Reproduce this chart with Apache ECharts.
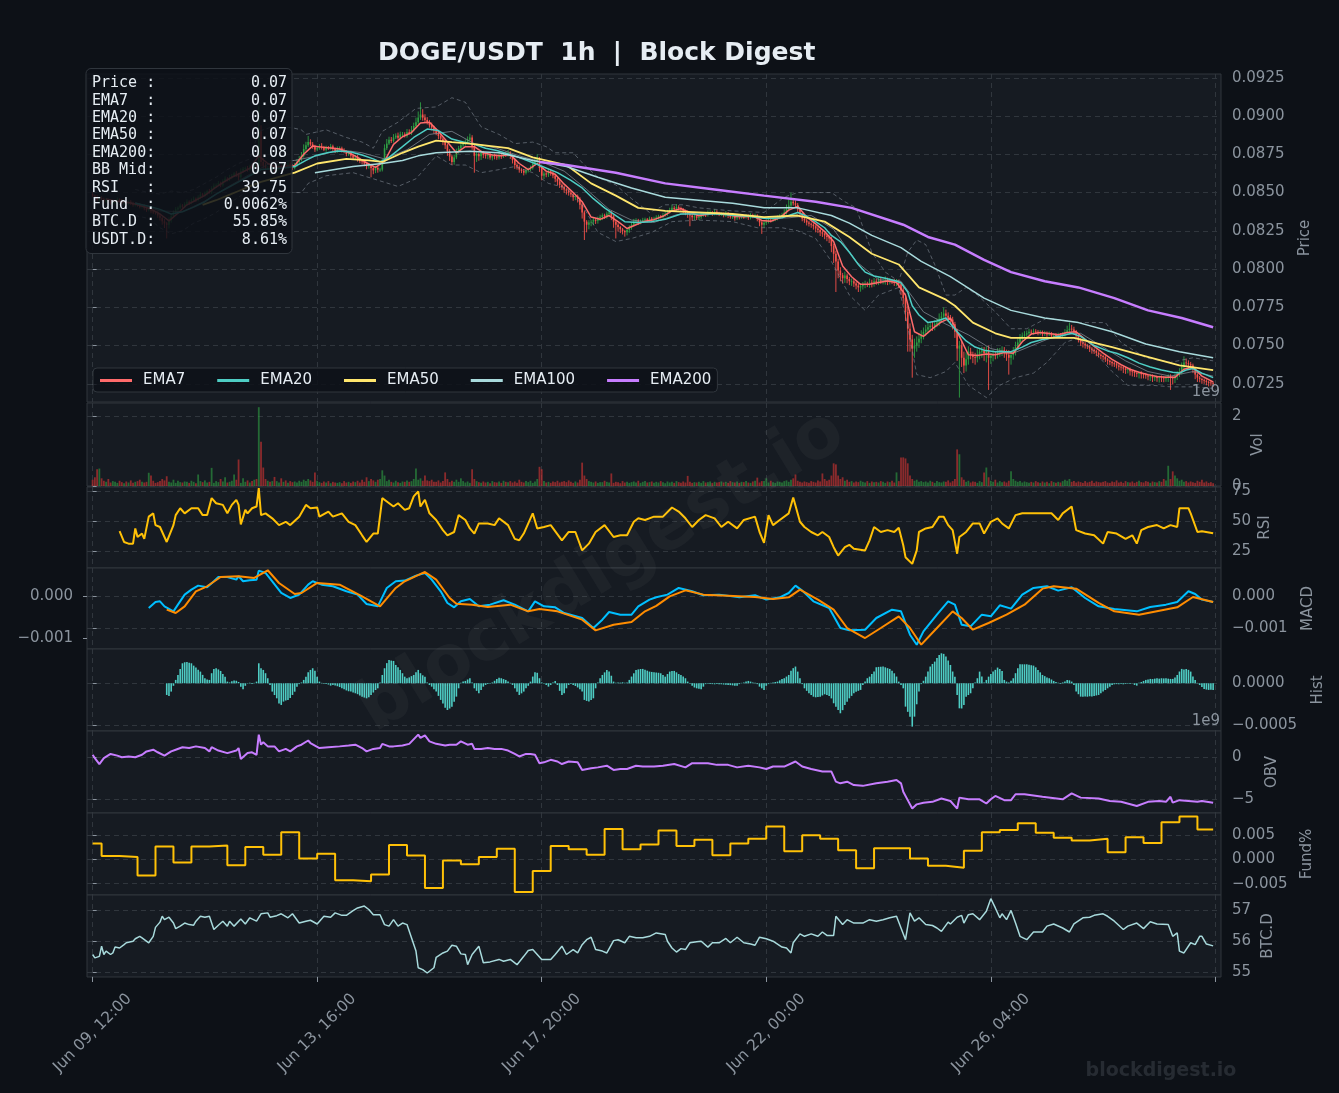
<!DOCTYPE html>
<html>
<head>
<meta charset="UTF-8">
<title>DOGE/USDT 1h | Block Digest</title>
<script src="https://cdn.jsdelivr.net/npm/echarts@6/dist/echarts.min.js"></script>
<style>html,body{margin:0;padding:0;background:#0d1117;}</style>
</head>
<body>
<div id="main" style="width:1339px;height:1093px;"></div>
<script>
// hourly candles, hour 0 = Jun 09 12:00; prices are x 1e-5
var closeX1e5 = [
8480,8470,8452,8465,8458,8440,8452,8445,8430,8438, 8440,8455,8448,8430,8436,8425,8440,8432,8418,8422,
8420,8405,8412,8398,8385,8392,8378,8370,8368,8350, 8335,8312,8298,8290,8318,8345,8372,8390,8400,8415,
8408,8425,8440,8432,8450,8460,8452,8470,8488,8480, 8495,8510,8502,8530,8545,8550,8562,8548,8575,8590,
8585,8602,8610,8625,8618,8600,8640,8655,8660,8648, 8670,8665,8680,8672,8900,8700,8675,8660,8662,8650,
8665,8640,8655,8672,8660,8680,8668,8690,8675,8660, 8680,8700,8718,8740,8785,8810,8830,8815,8800,8782,
8790,8805,8795,8780,8792,8790,8802,8785,8770,8788, 8790,8775,8768,8752,8760,8740,8728,8735,8718,8705,
8700,8690,8672,8680,8660,8645,8662,8650,8650,8700, 8790,8820,8845,8838,8860,8872,8858,8880,8880,8870,
8895,8888,8910,8935,8960,8990,9010,8990,8975,8960, 8940,8925,8905,8890,8870,8852,8830,8810,8770,8735,
8700,8730,8765,8790,8810,8822,8830,8845,8860,8800, 8740,8752,8738,8760,8745,8740,8748,8730,8742,8735,
8730,8745,8738,8752,8748,8760,8740,8712,8680,8668, 8650,8642,8630,8645,8652,8660,8690,8705,8720,8660,
8610,8625,8618,8640,8630,8612,8590,8572,8550,8535, 8520,8512,8500,8488,8470,8478,8460,8420,8370,8310,
8290,8305,8310,8322,8315,8330,8340,8352,8345,8362, 8370,8345,8310,8290,8275,8260,8248,8240,8255,8272,
8290,8310,8318,8305,8312,8320,8325,8318,8330,8322, 8330,8338,8345,8340,8352,8360,8372,8385,8400,8392,
8405,8398,8390,8380,8372,8360,8350,8338,8345,8335, 8340,8352,8360,8355,8368,8370,8362,8375,8365,8358,
8360,8352,8365,8348,8340,8340,8332,8345,8338,8342, 8340,8348,8335,8352,8345,8350,8330,8305,8290,8302,
8310,8322,8318,8325,8330,8338,8345,8352,8370,8392, 8415,8440,8430,8420,8390,8360,8330,8318,8305,8296,
8290,8280,8265,8255,8240,8232,8220,8210,8200,8150, 8100,8050,7990,7960,7940,7958,7935,7920,7920,7905,
7892,7880,7888,7895,7902,7900,7912,7905,7920,7915, 7925,7918,7920,7930,7915,7922,7920,7910,7915,7900,
7860,7810,7720,7610,7540,7480,7500,7520,7545,7570, 7590,7605,7620,7630,7625,7640,7650,7675,7690,7710,
7695,7680,7670,7640,7590,7480,7500,7420,7370,7410, 7460,7440,7425,7420,7445,7460,7470,7450,7470,7420,
7432,7445,7440,7455,7462,7470,7455,7440,7420,7438, 7460,7490,7520,7550,7565,7572,7580,7590,7585,7592,
7590,7582,7588,7575,7580,7572,7578,7565,7570,7562, 7570,7565,7570,7585,7600,7610,7605,7590,7565,7540,
7520,7512,7500,7495,7480,7472,7465,7452,7440,7432, 7425,7410,7400,7392,7385,7378,7370,7362,7358,7350,
7340,7345,7332,7328,7320,7315,7322,7312,7310,7305, 7298,7302,7290,7295,7288,7292,7290,7285,7292,7300,
7290,7285,7300,7315,7330,7360,7390,7385,7378,7370, 7345,7310,7290,7282,7275,7270,7262,7258,7255,7250
];
var firstOpenX1e5 = 8490;
// upper / lower wick length beyond the body, x 1e-5
var wickUpX1e5 = [
12,8,15,6,10,9,14,7,11,8, 9,13,7,10,12,6,9,11,8,10, 7,10,9,12,8,6,11,9,7,10, 12,8,15,10,20,18,12,15,10,14,
10,12,15,9,11,14,8,12,16,10, 12,9,14,11,15,10,13,9,12,16, 10,14,12,9,15,11,18,12,10,14, 12,15,10,14,170,40,25,18,12,15,
14,10,12,16,11,13,9,15,12,10, 14,18,20,25,30,22,40,18,15,12, 15,12,18,10,14,12,16,11,9,13, 12,10,14,9,11,13,8,12,10,9,
11,9,10,12,8,10,14,9,12,20, 25,30,20,18,22,15,20,18,16,14, 20,18,25,22,30,40,80,35,22,18, 15,18,12,14,10,12,9,11,10,14,
12,18,22,15,20,16,18,22,25,15, 12,14,10,15,12,9,13,11,10,12, 11,14,10,12,15,18,10,9,8,11, 10,9,12,14,11,16,20,18,30,12,
10,14,12,16,11,9,10,8,12,9, 10,8,9,11,8,12,9,10,15,12, 10,15,12,14,11,13,15,12,10,14, 18,10,9,8,10,7,9,8,12,14,
16,18,14,10,12,15,11,9,13,10, 12,14,10,9,15,18,14,16,22,12, 20,12,10,9,8,11,10,9,12,10, 11,14,12,10,15,13,9,16,10,9,
10,9,14,8,10,9,8,12,10,11, 9,12,8,14,10,12,8,9,10,12, 11,14,12,13,10,12,14,16,22,30, 40,60,25,18,12,10,9,8,10,9,
8,9,7,10,8,9,7,8,10,12, 15,20,18,22,15,25,12,14,18,15, 12,14,18,20,22,15,25,18,22,16, 20,18,15,22,14,18,12,15,20,16,
15,20,30,40,35,30,45,40,35,30, 28,30,25,22,30,25,28,35,30,40, 25,22,20,18,15,20,30,28,40,45, 35,25,20,28,30,25,22,20,25,30,
22,25,20,28,22,25,20,18,30,25, 30,35,28,25,20,22,18,20,15,18, 15,12,14,10,16,12,14,10,12,11, 14,12,18,22,30,40,25,18,12,10,
9,8,10,9,8,10,9,8,10,9, 8,10,9,8,10,9,11,8,10,9, 10,9,11,8,10,12,9,10,8,11, 10,12,9,11,8,10,12,9,10,11,
12,10,15,18,22,30,40,25,18,15, 12,10,9,11,8,10,9,8,10,9
];
var wickDnX1e5 = [
10,14,8,12,9,15,7,11,10,12, 8,11,13,9,10,12,8,14,10,9, 12,9,10,14,11,8,13,10,12,15, 18,22,30,90,25,15,12,10,14,9,
11,9,12,14,8,10,13,9,11,12, 10,14,9,12,11,15,8,13,10,9, 12,10,14,9,16,20,12,10,15,11, 9,12,10,14,20,30,18,15,12,14,
10,15,12,9,14,11,13,10,15,12, 9,12,10,14,11,15,12,10,14,16, 12,10,14,9,13,11,10,15,12,9, 10,13,11,15,12,14,10,12,16,13,
15,18,20,16,60,25,18,20,15,12, 10,12,9,14,11,10,13,9,12,10, 11,9,12,10,14,12,15,20,18,15, 16,18,20,15,22,18,20,25,30,28,
20,18,12,10,14,12,15,10,12,20, 110,40,30,25,20,18,22,15,20,18, 16,14,18,12,15,13,20,22,25,18, 20,15,18,12,14,11,10,12,14,25,
30,22,18,16,20,18,22,25,20,18, 22,25,20,18,24,20,25,30,40,120, 50,30,25,22,20,18,16,20,18,15, 20,25,40,90,30,25,22,28,20,18,
15,12,14,16,12,10,14,12,10,15, 12,10,14,9,11,10,12,9,10,14, 12,15,18,16,20,25,70,22,18,15, 14,12,10,15,12,10,14,11,13,12,
10,14,12,15,11,13,16,12,14,10, 12,10,14,11,13,10,18,25,60,20, 15,12,14,10,12,11,9,12,10,14, 12,10,15,18,20,22,18,16,20,18,
20,22,25,20,24,22,25,28,30,40, 60,200,50,40,35,30,28,25,30,22, 25,30,28,22,20,18,22,25,20,18, 20,15,18,22,20,16,18,20,22,25,
30,40,60,150,80,190,60,40,35,30, 30,28,25,22,30,25,20,22,25,20, 22,25,30,35,40,80,320,60,50,40, 35,30,40,45,30,35,40,50,60,210,
40,35,30,25,28,30,35,40,110,45, 30,25,20,18,22,15,18,12,15,14, 12,15,14,16,12,15,10,14,12,13, 12,14,10,12,15,12,14,16,18,20,
22,25,20,18,22,25,20,22,18,20, 22,18,25,20,22,18,20,25,22,30, 25,22,28,30,25,22,30,28,25,22, 25,30,28,22,25,30,28,25,22,30,
80,40,30,25,20,18,15,20,25,22, 25,30,28,22,25,20,22,25,18,20
];
// hourly volume, x 1e7
var volumeX1e7 = [
18,25,48,50,22,15,12,20,10,14, 12,9,15,11,8,13,10,16,9,12, 14,18,12,10,12,38,30,15,9,11, 14,20,16,28,12,10,18,9,15,11,
10,13,12,9,15,12,8,33,14,11, 16,10,12,52,9,14,11,20,13,25, 10,12,15,33,18,76,9,22,12,16, 10,14,18,20,226,127,53,20,15,12,
14,26,14,10,22,12,16,9,14,11, 13,10,15,12,18,14,20,16,12,39, 15,11,9,13,10,14,8,12,10,9, 11,8,14,10,12,9,13,11,15,10,
18,12,25,14,20,16,12,18,20,45, 30,14,18,12,10,15,11,9,13,12, 16,12,14,20,50,18,22,15,30,16, 14,18,12,12,16,10,14,39,20,11,
15,12,18,12,22,14,10,13,9,48, 20,14,11,9,13,10,12,8,14,11, 10,13,9,15,12,11,14,10,13,9, 18,12,10,14,11,15,9,13,20,55,
48,14,10,12,9,13,11,15,10,12, 14,11,16,12,9,13,10,18,67,30, 20,14,12,10,13,9,11,11,15,12, 10,36,9,12,11,8,14,10,12,9,
11,13,10,15,9,12,14,10,11,13, 9,12,10,14,11,8,13,10,12,9, 14,11,9,13,10,29,12,9,11,10, 12,9,14,10,11,13,9,12,10,11,
13,10,12,9,14,11,10,13,9,12, 11,14,10,9,13,15,24,10,14,14, 22,10,15,11,9,13,12,10,14,16, 12,18,22,33,15,12,10,13,11,9,
14,12,10,16,13,36,20,15,18,30, 65,62,30,20,25,15,18,12,14,10, 13,11,15,12,10,14,9,13,11,12, 10,14,12,9,13,11,15,10,39,14,
82,82,79,65,30,20,15,18,12,14, 11,13,10,15,12,9,14,11,10,13, 12,16,10,14,20,105,91,25,18,12, 15,10,13,12,9,14,11,39,53,25,
15,12,18,10,14,11,13,10,15,42, 20,15,12,14,10,13,11,9,12,10, 14,11,9,13,10,12,8,14,11,9, 12,10,14,18,15,20,12,14,10,13,
11,9,14,10,12,15,9,13,11,10, 12,14,10,9,13,11,16,10,12,9, 14,11,10,13,9,12,15,11,10,14, 12,9,13,11,10,14,12,20,16,58,
20,42,30,22,15,18,12,14,10,13, 11,9,15,12,18,10,13,9,11,8
];
// [hour, value x 1e-5]
var ema7 = [[6,8458],[10,8445],[14,8440],[18,8428],[22,8412],[26,8392],[30,8360],[34,8315],[38,8365],[42,8420],[46,8450],[50,8482],[54,8525],[58,8565],[62,8600],[66,8628],[70,8658],[74,8740],[78,8690],[82,8665],[86,8672],[90,8677],[94,8750],[98,8805],[102,8797],[106,8792],[110,8785],[114,8762],[118,8730],[122,8695],[126,8665],[130,8705],[134,8815],[138,8865],[142,8892],[146,8955],[150,8960],[154,8900],[158,8830],[162,8760],[166,8800],[170,8800],[174,8760],[178,8745],[182,8740],[186,8748],[190,8690],[194,8650],[198,8690],[202,8640],[206,8620],[210,8555],[214,8500],[218,8440],[222,8340],[226,8325],[230,8350],[234,8310],[238,8265],[242,8290],[246,8313],[250,8323],[254,8345],[258,8380],[262,8395],[266,8370],[270,8348],[274,8358],[278,8366],[282,8360],[286,8345],[290,8342],[294,8346],[298,8318],[302,8312],[306,8335],[310,8385],[314,8410],[318,8340],[322,8295],[326,8245],[330,8180],[334,8020],[338,7950],[342,7900],[346,7900],[350,7912],[354,7922],[358,7912],[362,7830],[366,7590],[370,7560],[374,7610],[378,7655],[382,7680],[386,7560],[390,7440],[394,7435],[398,7445],[402,7440],[406,7455],[410,7450],[414,7525],[418,7575],[422,7586],[426,7578],[430,7570],[434,7585],[438,7590],[442,7540],[446,7495],[450,7450],[454,7410],[458,7375],[462,7345],[466,7325],[470,7310],[474,7298],[478,7292],[482,7292],[486,7345],[490,7360],[494,7300],[499,7262]];
var ema20 = [[19,8430],[25,8410],[30,8390],[35,8360],[40,8375],[45,8405],[50,8440],[55,8490],[60,8530],[65,8570],[70,8610],[75,8650],[80,8655],[85,8660],[90,8670],[95,8710],[99,8740],[105,8762],[110,8772],[115,8765],[120,8745],[125,8720],[128,8700],[132,8730],[138,8800],[143,8860],[149,8915],[154,8905],[160,8850],[165,8830],[170,8815],[175,8790],[180,8775],[188,8740],[197,8690],[207,8630],[213,8580],[218,8530],[223,8460],[228,8400],[233,8350],[237,8310],[243,8305],[249,8310],[255,8325],[262,8360],[270,8360],[277,8362],[285,8352],[292,8345],[300,8330],[307,8335],[314,8370],[318,8345],[322,8310],[326,8270],[329,8220],[333,8180],[337,8110],[341,8030],[344,7980],[348,7955],[353,7940],[357,7925],[360,7910],[363,7850],[365,7760],[368,7700],[372,7650],[376,7660],[380,7680],[385,7590],[389,7530],[393,7490],[397,7470],[402,7460],[409,7460],[414,7490],[418,7520],[423,7540],[427,7550],[432,7565],[436,7580],[440,7560],[446,7500],[452,7465],[456,7450],[461,7420],[466,7385],[471,7360],[476,7340],[481,7325],[484,7320],[487,7340],[490,7350],[494,7320],[499,7290]];
var ema50 = [[49,8420],[55,8450],[60,8480],[65,8510],[70,8540],[75,8570],[80,8590],[85,8610],[90,8630],[100,8690],[113,8720],[123,8710],[129,8700],[138,8760],[145,8800],[153,8840],[160,8830],[168,8820],[185,8790],[196,8730],[211,8680],[222,8560],[233,8480],[243,8400],[255,8380],[270,8370],[285,8360],[299,8340],[314,8350],[326,8310],[337,8210],[347,8100],[359,8030],[368,7880],[380,7800],[384,7760],[392,7650],[402,7580],[409,7550],[424,7550],[437,7550],[454,7490],[469,7430],[484,7370],[499,7340]];
var ema100 = [[99,8630],[116,8670],[129,8690],[138,8710],[145,8740],[153,8760],[168,8770],[181,8760],[196,8710],[211,8670],[225,8600],[240,8530],[255,8470],[270,8450],[285,8430],[299,8400],[314,8400],[329,8350],[337,8300],[347,8220],[360,8140],[369,8050],[382,7950],[397,7810],[409,7730],[424,7680],[439,7650],[454,7590],[469,7510],[484,7460],[499,7420]];
var ema200 = [[199,8700],[211,8680],[233,8630],[255,8560],[277,8520],[299,8480],[322,8440],[338,8400],[361,8290],[372,8210],[384,8160],[397,8060],[409,7980],[424,7920],[439,7880],[455,7810],[470,7730],[485,7680],[499,7620]];
var bbUpper = [[19,8520],[25,8500],[30,8490],[35,8510],[40,8500],[45,8520],[50,8560],[55,8600],[60,8650],[65,8690],[70,8720],[74,8900],[80,8930],[85,8930],[90,8920],[93,8910],[95,8880],[104,8910],[113,8860],[120,8830],[125,8790],[129,8900],[136,8960],[144,9050],[153,9060],[160,9120],[166,9090],[173,8930],[181,8880],[188,8820],[196,8830],[202,8800],[206,8760],[214,8760],[219,8680],[225,8600],[233,8550],[240,8460],[248,8370],[255,8420],[263,8420],[270,8400],[285,8380],[299,8370],[308,8470],[314,8500],[329,8500],[335,8440],[340,8400],[347,8110],[353,7980],[359,7920],[363,8110],[367,8190],[371,8160],[375,8030],[380,7830],[384,7830],[389,7880],[394,7830],[402,7720],[409,7610],[416,7610],[425,7680],[439,7650],[451,7650],[458,7520],[469,7420],[480,7390],[490,7420],[499,7400]];
var bbLower = [[19,8350],[25,8330],[30,8270],[35,8230],[40,8250],[45,8300],[50,8330],[55,8370],[60,8420],[65,8470],[70,8520],[74,8470],[80,8480],[85,8500],[90,8500],[93,8500],[96,8560],[104,8610],[116,8630],[125,8590],[136,8540],[144,8590],[153,8740],[160,8680],[166,8680],[173,8630],[181,8650],[188,8670],[196,8630],[203,8560],[211,8530],[218,8420],[225,8240],[233,8180],[240,8200],[249,8240],[258,8310],[270,8320],[285,8310],[296,8270],[307,8270],[314,8250],[322,8200],[329,8050],[337,7830],[344,7730],[350,7830],[359,7880],[363,7630],[367,7310],[373,7290],[380,7330],[384,7390],[390,7240],[398,7160],[404,7240],[411,7290],[419,7320],[425,7390],[433,7520],[439,7550],[446,7460],[454,7330],[461,7240],[472,7240],[480,7230],[490,7230],[499,7220]];
var bbMid = [[19,8435],[30,8380],[40,8375],[50,8445],[60,8535],[70,8620],[80,8700],[90,8710],[100,8740],[110,8780],[120,8760],[130,8720],[140,8780],[150,8880],[160,8900],[170,8820],[180,8790],[190,8740],[200,8700],[210,8640],[220,8520],[230,8390],[240,8320],[250,8305],[260,8355],[270,8370],[280,8360],[290,8350],[300,8330],[310,8335],[320,8350],[330,8260],[340,8050],[350,7930],[360,7920],[370,7720],[380,7640],[390,7570],[400,7480],[410,7450],[420,7510],[430,7570],[440,7580],[450,7490],[460,7400],[470,7330],[480,7300],[490,7330],[499,7300]];
// [hour, RSI]
var rsi = [[12,41.5],[14,32.4],[16,31],[18,31],[19,43.8],[20,36.6],[22,39.5],[23,35],[25,53.7],[27,56.5],[28,46.6],[30,45],[33,32.4],[36,46.6],[37,55],[39,60.8],[41,56.5],[44,60.8],[47,60.8],[49,55],[51,55],[53,69.3],[55,65],[58,63.6],[60,56.5],[62,63.6],[64,67.9],[65,63.6],[66,47.2],[68,59.4],[69,56.5],[71,60.8],[73,62.2],[74,77.8],[75,55],[77,56.5],[80,52.3],[83,46.6],[86,49.4],[88,46.6],[92,53.7],[95,63.6],[97,60.8],[100,61.4],[101,53.7],[105,58],[107,53.7],[111,56.5],[114,49.4],[117,46.6],[120,38],[122,32.4],[125,39.5],[127,39.5],[129,69.3],[131,66.5],[134,62.2],[136,65],[139,59.4],[141,60.8],[143,70.7],[145,75],[146,62.2],[148,67.9],[150,56.5],[153,50.9],[156,42.4],[158,38],[161,40.8],[163,55],[166,50.9],[168,43.8],[170,39.5],[172,48],[176,48],[179,46.6],[181,52.3],[185,46.6],[188,35],[190,33.8],[192,39.5],[195,52.3],[196,56.5],[198,43.8],[201,45],[204,46.6],[209,33.8],[212,40.8],[215,40.8],[218,25.3],[221,31],[224,40.8],[228,46.6],[232,36.6],[235,38],[238,38],[241,49.4],[243,52.3],[246,50.9],[250,53.7],[254,53.7],[258,61.4],[261,58],[264,52.3],[267,45],[270,50.9],[273,55],[277,52.3],[280,45],[283,49.4],[287,43.8],[290,50.9],[295,53.7],[297,40.8],[299,31.7],[301,55],[303,46.6],[306,50.9],[310,56.5],[312,69.9],[315,49.4],[317,45],[320,40.8],[323,38],[325,40.8],[328,36.6],[330,28],[332,21],[335,28],[337,30],[339,26.7],[344,25.3],[346,33.8],[348,45],[351,40.8],[354,42.4],[357,40.8],[359,44.3],[361,29.6],[362,19.6],[365,14],[367,25.3],[368,40.8],[371,43.8],[374,45],[377,53.7],[379,53.7],[381,46.6],[383,42.4],[385,22.5],[386,36.6],[389,40.8],[392,48],[395,48],[397,39.5],[400,49.4],[403,52.3],[405,48],[408,43.8],[411,55],[414,56.5],[418,56.5],[423,56.5],[427,56.5],[430,50.9],[432,56.5],[436,62.2],[438,42.4],[442,39.5],[446,38],[450,31],[452,40.8],[456,39.5],[460,35],[463,38],[465,31],[467,42.4],[470,45],[474,46.6],[477,43.8],[480,46.6],[483,45],[484,60.8],[488,60.8],[489,56.5],[492,40.8],[494,41.5],[499,39.75]];
// [hour, value x 1e-6]
var macdLine = [[25,-368],[28,-179],[30,-158],[32,-316],[36,-474],[38,-263],[41,53],[44,210],[47,337],[51,284],[54,474],[56,610],[60,610],[64,526],[65,632],[67,474],[70,505],[73,526],[74,810],[77,737],[80,474],[84,105],[88,-53],[92,53],[96,368],[98,474],[102,368],[107,316],[113,158],[118,53],[122,-242],[127,-316],[131,263],[135,474],[139,495],[144,653],[148,737],[151,526],[155,158],[158,-210],[161,-347],[164,-158],[168,-84],[172,-316],[177,-263],[183,-126],[188,-263],[194,-474],[197,-158],[201,-316],[206,-347],[210,-526],[218,-684],[223,-1000],[227,-737],[230,-495],[235,-579],[240,-579],[243,-316],[248,-105],[251,-30],[256,53],[261,263],[267,158],[272,32],[279,53],[288,-32],[295,32],[300,-105],[306,-32],[310,105],[313,337],[316,179],[321,-158],[328,-368],[333,-1000],[337,-1074],[344,-1053],[349,-684],[356,-421],[360,-474],[364,-1211],[367,-1526],[370,-1105],[376,-579],[381,-158],[384,-263],[387,-895],[391,-947],[396,-579],[400,-632],[404,-284],[409,-389],[414,53],[419,263],[425,316],[430,179],[436,284],[442,-53],[448,-316],[455,-400],[465,-474],[471,-337],[478,-263],[483,-179],[488,158],[491,74],[494,-105],[499,-179]];
var signalLine = [[33,-421],[37,-526],[41,-316],[46,158],[51,316],[57,610],[65,632],[72,579],[78,821],[83,421],[90,74],[93,105],[100,421],[110,368],[120,0],[128,-316],[135,263],[139,474],[148,768],[153,526],[159,-53],[162,-232],[169,-263],[176,-337],[186,-263],[194,-474],[199,-400],[207,-474],[218,-737],[224,-1074],[232,-895],[240,-811],[246,-474],[251,-300],[257,0],[264,189],[272,53],[283,21],[295,-21],[303,-84],[310,-32],[315,210],[323,-105],[330,-421],[336,-1000],[344,-1316],[351,-1000],[359,-632],[364,-1000],[369,-1526],[376,-1000],[383,-474],[387,-684],[392,-1053],[399,-842],[407,-579],[415,-263],[423,242],[428,316],[438,242],[448,-210],[455,-474],[466,-579],[483,-347],[490,-21],[499,-179]];
// MACD histogram, hourly from hour 33, x 1e-6
var histStartHour = 33;
var histX1e6 = [
-139,-150,-99,-30,40,99,170,238,250,252, 245,238,210,187,160,139,100,60,45,40, 120,171,179,165,147,110,79,20,10,25,
32,30,15,-40,-71,-30,-5,5,-8,5, 20,238,179,159,120,60,-20,-99,-140,-179, -240,-258,-218,-205,-198,-175,-139,-100,-40,-10,
10,40,79,130,159,179,150,79,20,5, -5,-10,-15,-28,-20,-25,-35,-45,-60,-70, -85,-95,-99,-110,-119,-130,-145,-159,-170,-179,
-165,-139,-110,-80,-60,10,99,179,240,278, 270,266,218,190,159,120,79,60,70,85, 99,130,159,120,95,79,10,-20,-40,-70,
-99,-150,-198,-240,-290,-318,-300,-278,-220,-159, -60,5,20,28,45,60,10,-60,-90,-119, -80,-40,-20,-10,-5,10,30,50,67,60,
50,40,20,5,-20,-60,-100,-139,-120,-99, -60,-30,20,80,131,125,60,10,-5,-20, -40,-20,10,28,-20,-90,-139,-120,-60,-20,
-10,-20,-32,-50,-70,-99,-198,-210,-218,-200, -179,-60,10,60,99,130,159,140,90,20, 5,10,8,12,6,10,40,80,119,159,
165,170,171,160,150,139,135,131,128,125, 119,100,79,110,139,145,147,130,110,99, 80,60,20,-5,-30,-50,-60,-65,-71,-40,
-10,-5,-8,-10,-12,-10,-12,-12,-15,-18, -20,-22,-25,-28,-28,-10,5,10,20,28, 20,10,5,-10,-40,-60,-79,-30,-10,5,
10,15,20,35,50,60,80,99,150,180, 199,139,60,-10,-60,-90,-119,-140,-160,-167, -162,-159,-145,-131,-140,-150,-180,-238,-280,-318,
-357,-320,-258,-220,-179,-150,-119,-100,-90,-79, -20,20,60,79,110,139,191,195,198,199, 190,180,171,150,119,80,20,-20,-60,-278,
-340,-397,-516,-397,-250,-99,-10,30,79,140, 199,230,258,300,337,357,350,318,270,218, 140,79,-139,-298,-300,-260,-159,-140,-119,-60,
10,60,139,80,10,40,79,110,139,160, 187,170,147,40,20,10,30,60,120,179, 226,226,226,226,220,215,210,190,159,130,
99,85,70,60,45,28,15,5,-8,10, 20,40,35,20,-20,-99,-130,-159,-160,-158, -160,-155,-158,-150,-145,-139,-120,-99,-80,-60,
-40,-20,-12,-10,-12,-10,-12,-8,-5,-8, -2,-20,-28,5,15,28,40,45,52,50, 55,60,55,60,58,60,55,52,52,70,
99,140,171,165,171,160,139,80,40,5, -20,-45,-67,-75,-79,-78,-79
];
// [hour, OBV x 1e8]
var obv = [[0,3],[1,-1],[3,-8],[5,-1],[8,4],[11,2],[13,0],[16,1],[19,0],[22,3],[24,7],[27,9],[29,6],[32,2],[35,7],[37,9],[40,12],[43,11],[46,13],[50,11],[52,7],[53,12],[56,8],[60,5],[64,8],[65,11],[66,-2],[69,5],[71,6],[73,3],[74,27],[75,15],[76,18],[78,13],[81,13],[83,7],[86,10],[88,7],[91,13],[93,15],[96,20],[97,17],[101,11],[105,12],[110,13],[114,14],[117,15],[120,11],[122,7],[125,10],[128,11],[129,16],[132,13],[134,13],[138,14],[141,16],[145,27],[146,23],[148,26],[150,19],[153,16],[157,14],[159,15],[162,15],[164,19],[167,15],[169,16],[170,10],[173,10],[176,11],[179,10],[182,10],[185,8],[188,4],[190,1],[193,4],[195,4],[197,3],[199,-7],[201,-6],[204,-3],[207,-5],[209,-8],[212,-5],[216,-6],[218,-15],[222,-13],[225,-12],[229,-10],[232,-15],[235,-14],[238,-14],[242,-10],[245,-11],[250,-11],[254,-10],[259,-8],[264,-12],[267,-7],[274,-7],[278,-9],[283,-9],[287,-12],[292,-10],[297,-12],[300,-14],[303,-11],[308,-11],[313,-5],[316,-11],[320,-14],[325,-17],[329,-17],[331,-29],[333,-31],[336,-29],[339,-33],[343,-34],[349,-31],[354,-29],[358,-27],[360,-31],[361,-41],[363,-51],[365,-61],[367,-56],[370,-54],[374,-53],[378,-49],[382,-52],[385,-61],[386,-48],[390,-50],[395,-50],[398,-55],[400,-50],[402,-46],[406,-51],[409,-51],[411,-44],[415,-44],[423,-47],[432,-50],[436,-43],[440,-48],[448,-49],[453,-52],[458,-53],[465,-58],[470,-53],[475,-52],[478,-53],[480,-47],[481,-54],[484,-51],[488,-52],[492,-53],[494,-52],[499,-54]];
// funding rate (%) per 8h period; first period ends at hour 4
var fundRates = [0.0033,0.0007,0.0005,-0.0033,0.0027,-0.0006,0.0027,0.0029,-0.0012,0.0026,0.0010,0.0056,0.0002,0.0012,-0.0043,-0.0045,-0.0031,0.0030,0.0008,-0.0059,-0.0002,-0.0010,0.0005,0.0022,-0.0067,-0.0024,0.0028,0.0021,0.0010,0.0063,0.0021,0.0031,0.0060,0.0028,0.0041,0.0009,0.0033,0.0043,0.0068,0.0017,0.0050,0.0043,0.0019,-0.0018,0.0023,0.0023,0.0002,-0.0013,-0.0017,0.0018,0.0056,0.0061,0.0075,0.0055,0.0045,0.0039,0.0043,0.0015,0.0046,0.0034,0.0077,0.0089,0.0062];
// [hour, BTC dominance %]
var btcDom = [[0,55.57],[1,55.46],[3,55.51],[4,55.84],[5,55.57],[6,55.68],[8,55.57],[9,55.62],[10,55.81],[12,55.78],[14,55.89],[15,55.95],[18,56.0],[19,56.08],[21,56.16],[22,56.11],[25,55.95],[27,56.16],[28,56.45],[30,56.62],[31,56.81],[32,56.70],[34,56.78],[36,56.59],[37,56.41],[39,56.49],[41,56.59],[43,56.54],[45,56.52],[46,56.65],[48,56.81],[50,56.78],[52,56.81],[54,56.38],[56,56.52],[58,56.65],[60,56.49],[61,56.65],[63,56.49],[66,56.72],[68,56.56],[70,56.76],[73,56.65],[75,56.89],[78,56.92],[79,56.78],[82,56.83],[84,56.89],[87,56.76],[89,56.89],[92,56.59],[95,56.65],[97,56.68],[100,56.56],[103,56.81],[106,56.78],[108,56.92],[111,56.84],[113,56.84],[116,56.99],[118,57.08],[121,57.14],[123,57.03],[125,56.86],[128,56.86],[130,56.54],[132,56.49],[134,56.70],[136,56.49],[138,56.59],[140,56.54],[142,56.11],[144,55.68],[145,55.14],[147,55.08],[149,54.97],[152,55.14],[153,55.48],[156,55.62],[158,55.68],[160,55.87],[162,55.84],[164,55.59],[166,55.57],[167,55.24],[169,55.57],[172,55.84],[174,55.30],[177,55.33],[181,55.41],[183,55.35],[186,55.41],[189,55.24],[192,55.51],[194,55.70],[196,55.73],[198,55.57],[200,55.41],[204,55.41],[206,55.57],[209,55.84],[211,55.57],[214,55.73],[216,55.62],[218,55.89],[220,56.05],[222,56.13],[224,55.73],[227,55.68],[229,55.62],[232,56.02],[234,56.05],[237,55.95],[239,56.16],[242,56.11],[245,56.11],[248,56.16],[251,56.27],[255,56.22],[256,56.0],[258,55.78],[260,55.65],[262,55.76],[264,55.73],[266,55.95],[269,55.98],[271,56.0],[274,55.81],[276,55.95],[279,55.95],[282,56.09],[284,55.95],[287,56.13],[290,55.95],[293,55.91],[295,55.87],[297,56.13],[300,56.08],[303,56.0],[307,55.81],[309,55.78],[311,55.62],[312,55.95],[315,56.24],[317,56.16],[320,56.24],[323,56.16],[325,56.30],[327,56.19],[330,56.19],[331,56.81],[334,56.54],[336,56.70],[339,56.59],[343,56.59],[346,56.70],[349,56.65],[352,56.70],[355,56.76],[358,56.81],[360,56.43],[362,56.05],[363,56.49],[364,56.92],[366,56.65],[368,56.76],[371,56.54],[374,56.51],[376,56.43],[378,56.32],[381,56.62],[382,56.56],[385,56.78],[387,56.84],[388,56.59],[390,56.86],[392,56.89],[395,56.70],[398,56.97],[400,57.38],[402,57.08],[404,56.76],[405,56.89],[407,56.70],[409,57.0],[411,56.59],[413,56.16],[416,56.05],[419,56.30],[423,56.30],[425,56.49],[428,56.56],[432,56.43],[435,56.30],[437,56.56],[441,56.76],[444,56.78],[446,56.84],[450,56.89],[452,56.81],[455,56.65],[459,56.38],[461,56.49],[465,56.59],[468,56.41],[471,56.63],[474,56.56],[479,56.54],[481,56.16],[483,56.27],[484,55.68],[486,55.62],[489,55.95],[491,55.89],[493,56.16],[494,56.16],[496,55.91],[499,55.85]];

var tickHours = [0, 100, 200, 300, 400, 500];
var tickLabels = ['Jun 09, 12:00', 'Jun 13, 16:00', 'Jun 17, 20:00', 'Jun 22, 00:00', 'Jun 26, 04:00'];
var infoLabels = ['Price :', 'EMA7  :', 'EMA20 :', 'EMA50 :', 'EMA200:', 'BB Mid:', 'RSI   :', 'Fund  :', 'BTC.D :', 'USDT.D:'];
var infoValues = ['0.07', '0.07', '0.07', '0.07', '0.08', '0.07', '39.75', '0.0062%', '55.85%', '8.61%'];

// ---------- layout & style ----------
var C = {
    bg: '#0d1117', panel: '#161b22', border: '#30363d', grid: '#30363d',
    text: '#8b949e', title: '#e6edf3',
    up: '#2ea043', down: '#f85149',
    volUp: 'rgba(46,160,67,0.6)', volDown: 'rgba(218,54,51,0.6)',
    ema7: '#ff6b6b', ema20: '#4ecdc4', ema50: '#ffe66d', ema100: '#a8dadc', ema200: '#c77dff',
    rsi: '#ffc107', macd: '#00bfff', signal: '#ff8c00', hist: '#4ecdc4', obv: '#c77dff',
    fund: '#ffc107', btcd: '#a8dadc'
};
var FONT = 'DejaVu Sans';
var X_MIN = -2.5, X_MAX = 502.5;
var panels = [
    {top: 74, height: 328},
    {top: 403, height: 83},
    {top: 487, height: 81},
    {top: 568, height: 81},
    {top: 649, height: 82},
    {top: 731, height: 82},
    {top: 813, height: 82},
    {top: 895, height: 82}
];

function mpl(v, d) {
    return v.toFixed(d).replace('-', '\u2212');
}

function xAxisFor(i) {
    var last = i === panels.length - 1;
    return {
        type: 'value', gridIndex: i, min: X_MIN, max: X_MAX,
        axisLine: {show: false},
        axisTick: {show: last, customValues: tickHours, length: 5, lineStyle: {color: C.text}},
        axisLabel: {
            show: last, customValues: tickHours.slice(0, 5), rotate: 45, margin: 56,
            align: 'center', verticalAlign: 'middle',
            color: C.text, fontSize: 15.5, fontFamily: FONT,
            formatter: function (v) { return tickLabels[Math.round(v / 100)] || ''; }
        },
        splitLine: {show: true, lineStyle: {color: C.grid, type: [5, 4], width: 1}}
    };
}

function yAxisFor(i, o) {
    return {
        type: 'value', gridIndex: i, position: o.position || 'right',
        min: o.min, max: o.max,
        name: o.name || '', nameLocation: 'middle', nameRotate: 90, nameGap: o.nameGap || 40,
        nameMoveOverlap: false,
        nameTextStyle: {color: C.text, fontSize: 15, fontFamily: FONT},
        axisLine: {show: false},
        axisTick: {show: true, inside: false, length: 4, customValues: o.ticks, lineStyle: {color: C.text}},
        axisLabel: {
            customValues: o.ticks, margin: o.margin || 11, color: C.text, fontSize: 15, fontFamily: FONT,
            padding: [4, 0, 0, 0], formatter: o.fmt
        },
        splitLine: {show: o.split !== false, lineStyle: {color: C.grid, type: [5, 4], width: 1}}
    };
}

var yAxes = [
    yAxisFor(0, {min: 0.07131, max: 0.09275, ticks: [0.0725, 0.075, 0.0775, 0.08, 0.0825, 0.085, 0.0875, 0.09, 0.0925], name: 'Price', nameGap: 77, fmt: function (v) { return v.toFixed(4); }}),
    yAxisFor(1, {min: 0, max: 2.38e9, ticks: [0, 2e9], name: 'Vol', nameGap: 30, fmt: function (v) { return mpl(v / 1e9, 0); }}),
    yAxisFor(2, {min: 10.5, max: 78.66, ticks: [25, 50, 75], name: 'RSI', nameGap: 37, fmt: function (v) { return String(v); }}),
    yAxisFor(3, {min: -0.001662, max: 0.000893, ticks: [-0.001, 0], name: 'MACD', nameGap: 80, fmt: function (v) { return mpl(v, 3); }}),
    yAxisFor(4, {min: -0.000568, max: 0.000408, ticks: [-0.0005, 0], name: 'Hist', nameGap: 90, fmt: function (v) { return mpl(v, 4); }}),
    yAxisFor(5, {min: -6.63e9, max: 3.13e9, ticks: [-5e9, 0], name: 'OBV', nameGap: 44, fmt: function (v) { return mpl(v / 1e9, 0); }}),
    yAxisFor(6, {min: -0.00733, max: 0.0096, ticks: [-0.005, 0, 0.005], name: 'Fund%', nameGap: 79, fmt: function (v) { return mpl(v, 3); }}),
    yAxisFor(7, {min: 54.84, max: 57.5, ticks: [55, 56, 57], name: 'BTC.D', nameGap: 40, fmt: function (v) { return String(v); }}),
    yAxisFor(3, {position: 'left', min: -0.001264, max: 0.000679, ticks: [-0.001, 0], split: false, margin: 14, fmt: function (v) { return mpl(v, 3); }})
];

// ---------- series data ----------
var candles = closeX1e5.map(function (c, i) {
    var o = i === 0 ? firstOpenX1e5 : closeX1e5[i - 1];
    var hi = Math.max(o, c) + wickUpX1e5[i];
    var lo = Math.min(o, c) - wickDnX1e5[i];
    return [i, o / 1e5, c / 1e5, lo / 1e5, hi / 1e5];
});
var volumes = volumeX1e7.map(function (v, i) {
    var o = i === 0 ? firstOpenX1e5 : closeX1e5[i - 1];
    return {value: [i, v * 1e7], itemStyle: {color: closeX1e5[i] >= o ? C.volUp : C.volDown}};
});
var hist = histX1e6.map(function (v, i) { return [histStartHour + i, v * 1e-6]; });
var fundSteps = fundRates.map(function (r, k) { return [k === 0 ? 0 : 4 + 8 * (k - 1), r]; });
fundSteps.push([499, fundRates[fundRates.length - 1]]);

function scaled(arr, f) { return arr.map(function (p) { return [p[0], p[1] * f]; }); }

function line(name, idx, data, color, width, extra) {
    var s = {
        name: name, type: 'line', xAxisIndex: idx, yAxisIndex: idx, data: data,
        symbol: 'none', showSymbol: false, clip: true, silent: true,
        lineStyle: {color: color, width: width}, itemStyle: {color: color}
    };
    for (var k in extra) s[k] = extra[k];
    return s;
}

function renderCandle(params, api) {
    var x = api.value(0), o = api.value(1), c = api.value(2), l = api.value(3), h = api.value(4);
    var pO = api.coord([x, o]), pC = api.coord([x, c]);
    var pL = api.coord([x, l]), pH = api.coord([x, h]);
    var color = c >= o ? C.up : C.down;
    var top = Math.min(pO[1], pC[1]);
    var bh = Math.max(Math.abs(pO[1] - pC[1]), 0.8);
    return {
        type: 'group',
        children: [
            {type: 'line', shape: {x1: pH[0], y1: pH[1], x2: pL[0], y2: pL[1]}, style: {stroke: color, lineWidth: 0.9}},
            {type: 'rect', shape: {x: pO[0] - 0.8, y: top, width: 1.6, height: bh}, style: {fill: color}}
        ]
    };
}

var series = [
    {
        name: 'Candles', type: 'custom', xAxisIndex: 0, yAxisIndex: 0, renderItem: renderCandle,
        data: candles, encode: {x: 0, y: [1, 2, 3, 4]}, clip: true, silent: true
    },
    line('BB Upper', 0, scaled(bbUpper, 1e-5), 'rgba(139,148,158,0.55)', 1, {lineStyle: {color: 'rgba(139,148,158,0.55)', width: 1, type: [4, 3]}}),
    line('BB Lower', 0, scaled(bbLower, 1e-5), 'rgba(139,148,158,0.55)', 1, {lineStyle: {color: 'rgba(139,148,158,0.55)', width: 1, type: [4, 3]}}),
    line('BB Mid', 0, scaled(bbMid, 1e-5), 'rgba(139,148,158,0.7)', 1),
    line('EMA7', 0, scaled(ema7, 1e-5), C.ema7, 1.5),
    line('EMA20', 0, scaled(ema20, 1e-5), C.ema20, 1.5),
    line('EMA50', 0, scaled(ema50, 1e-5), C.ema50, 1.8),
    line('EMA100', 0, scaled(ema100, 1e-5), C.ema100, 1.5),
    line('EMA200', 0, scaled(ema200, 1e-5), C.ema200, 2.5),
    {name: 'Volume', type: 'bar', xAxisIndex: 1, yAxisIndex: 1, data: volumes, barWidth: 1.8, silent: true},
    line('RSI', 2, rsi, C.rsi, 2),
    line('MACD', 3, scaled(macdLine, 1e-6), C.macd, 2),
    line('Signal', 3, scaled(signalLine, 1e-6), C.signal, 2),
    {name: 'Hist', type: 'bar', xAxisIndex: 4, yAxisIndex: 4, data: hist, barWidth: 1.6, itemStyle: {color: C.hist}, silent: true},
    line('OBV', 5, scaled(obv, 1e8), C.obv, 2),
    line('Fund%', 6, fundSteps, C.fund, 2, {step: 'end'}),
    line('BTC.D', 7, btcDom, C.btcd, 1.5)
];

// ---------- graphics: info box, watermarks, offset texts ----------
var graphics = [
    {type: 'rect', z: 50, silent: true, shape: {x: 86, y: 68.5, width: 206, height: 185, r: 5},
        style: {fill: 'rgba(13,17,23,0.85)', stroke: C.border, lineWidth: 1}}
];
infoLabels.forEach(function (t, i) {
    graphics.push({type: 'text', z: 51, silent: true, x: 92, y: 83.3 + 17.4 * i,
        style: {text: t, font: '15px "DejaVu Sans Mono"', fill: C.title, textVerticalAlign: 'middle'}});
    graphics.push({type: 'text', z: 51, silent: true, x: 287, y: 83.3 + 17.4 * i,
        style: {text: infoValues[i], font: '15px "DejaVu Sans Mono"', fill: C.title, textAlign: 'right', textVerticalAlign: 'middle'}});
});
graphics.push({type: 'text', z: 100, silent: true, x: 602, y: 572, rotation: 0.55,
    style: {text: 'blockdigest.io', font: 'bold 70px "DejaVu Sans"', fill: 'rgba(255,255,255,0.035)', textAlign: 'center', textVerticalAlign: 'middle'}});
graphics.push({type: 'text', z: 100, silent: true, x: 1161, y: 1071,
    style: {text: 'blockdigest.io', font: 'bold 19px "DejaVu Sans"', fill: 'rgba(139,148,158,0.2)', textAlign: 'center', textVerticalAlign: 'middle'}});
graphics.push({type: 'text', z: 60, silent: true, x: 1220, y: 392,
    style: {text: '1e9', font: '15px "DejaVu Sans"', fill: C.text, textAlign: 'right', textVerticalAlign: 'middle'}});
graphics.push({type: 'text', z: 60, silent: true, x: 1220, y: 721,
    style: {text: '1e9', font: '15px "DejaVu Sans"', fill: C.text, textAlign: 'right', textVerticalAlign: 'middle'}});

var option = {
    animation: false,
    backgroundColor: C.bg,
    title: {
        text: 'DOGE/USDT  1h  |  Block Digest', left: 378, top: 41, padding: 0,
        textStyle: {color: C.title, fontSize: 25, fontWeight: 'bold', fontFamily: FONT}
    },
    legend: {
        data: ['EMA7', 'EMA20', 'EMA50', 'EMA100', 'EMA200'],
        icon: 'rect',
        left: 93, top: 368, padding: [5, 6, 4, 7], itemWidth: 32, itemHeight: 3, itemGap: 32,
        selectedMode: false, z: 20,
        backgroundColor: 'rgba(13,17,23,0.85)', borderColor: C.border, borderWidth: 1, borderRadius: 4,
        textStyle: {color: C.title, fontSize: 15, fontFamily: FONT, padding: [0, 0, 0, 6]}
    },
    grid: panels.map(function (p) {
        return {left: 87, right: 118, top: p.top, height: p.height, show: true,
            backgroundColor: C.panel, borderColor: C.border, borderWidth: 1};
    }),
    xAxis: panels.map(function (p, i) { return xAxisFor(i); }),
    yAxis: yAxes,
    series: series,
    graphic: graphics
};

var chart = echarts.init(document.getElementById('main'), null, {renderer: 'canvas'});
chart.setOption(option);
</script>
</body>
</html>
